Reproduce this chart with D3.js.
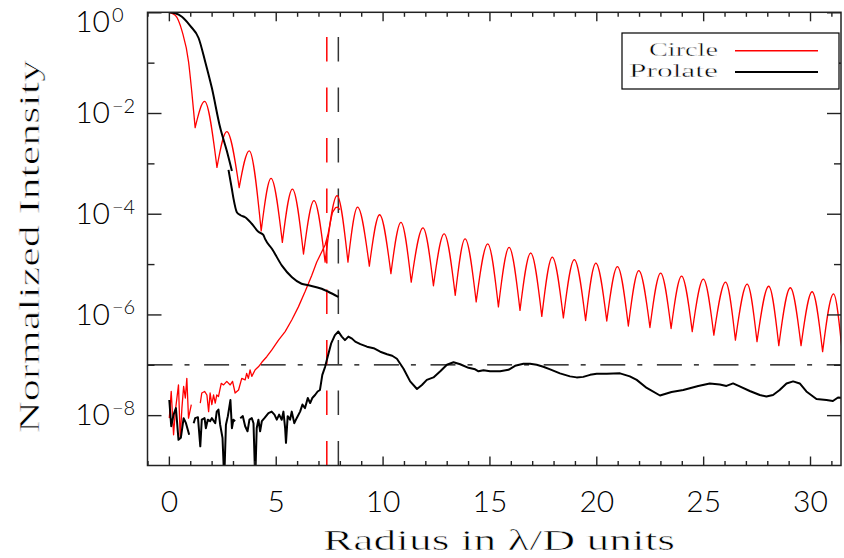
<!DOCTYPE html>
<html>
<head>
<meta charset="utf-8">
<script src="https://cdn.jsdelivr.net/npm/d3@7"></script>
<style>
  body { margin: 0; background: #fff; }
  .tick text { font-family: Lato, "Open Sans", sans-serif; font-weight: 300; font-size: 30px; fill: #000; }
  .tick text.sup { font-size: 20px; }
  .title { font-family: "Liberation Serif", serif; font-size: 30px; fill: #000; stroke: #fff; stroke-width: 0.6px; }
  .legend text { font-family: "Liberation Serif", serif; font-size: 18px; fill: #000; stroke: #fff; stroke-width: 0.4px; }
</style>
</head>
<body>
<div id="chart"></div>
<script>
// ---- data (radius in lambda/D, log10 of normalized intensity) ----
var seriesNames = ["Circle", "Prolate"];
var seriesColors = ["#ff0000", "#000000"];

var xTicks = [0, 5, 10, 15, 20, 25, 30];
var yTicks = [1, 1e-2, 1e-4, 1e-6, 1e-8];
var yMinorTicks = [1e-1, 1e-3, 1e-5, 1e-7];

// circle: central lobe, then the ring pattern (nulls and ring peaks)
var mainLobeR   = [0, 0.3, 0.62, 0.92, 1.07, 1.23];
var mainLobeLog = [0, -0.06, -0.38, -0.98, -1.57, -2.29];

var airyNullR = [1.23, 2.25, 3.29, 4.32, 5.31, 6.30, 7.31, 8.38, 9.38, 10.39,
                 11.34, 12.38, 13.40, 14.38, 15.42, 16.43, 17.45, 18.46, 19.50, 20.49,
                 21.50, 22.51, 23.50, 24.49, 25.50, 26.51, 27.52, 28.54, 29.58, 30.59, 31.5];
var airyNullLog = [-2.29, -3.08, -3.48, -4.34, -4.57, -4.80, -4.96, -4.96, -5.04, -5.19,
                   -5.36, -5.43, -5.62, -5.75, -5.85, -5.92, -6.04, -6.07, -6.12, -6.13,
                   -6.23, -6.26, -6.28, -6.34, -6.41, -6.51, -6.54, -6.62, -6.62, -6.74, -6.72];
var airyPeakR = [1.67, 2.71, 3.76, 4.78, 5.78, 6.79, 7.87, 8.83, 9.86, 10.86,
                 11.89, 12.88, 13.86, 14.92, 15.92, 16.93, 17.94, 18.97, 19.98, 20.99,
                 21.99, 23.01, 23.99, 25.01, 26.05, 27.06, 28.07, 29.08, 30.10, 31.10];
var airyPeakLog = [-1.77, -2.37, -2.75, -3.30, -3.51, -3.74, -3.64, -3.87, -4.02, -4.17,
                   -4.28, -4.40, -4.50, -4.60, -4.67, -4.78, -4.86, -4.91, -4.98, -5.05,
                   -5.13, -5.18, -5.24, -5.30, -5.36, -5.40, -5.44, -5.47, -5.55, -5.59];

// circle: residual floor inside the corrected zone
var circleFloorAR   = [0.02, 0.11, 0.22, 0.30, 0.45, 0.53, 0.61, 0.69, 0.77, 0.84, 0.92, 1.05];
var circleFloorALog = [-8.06, -7.53, -8.39, -7.93, -7.40, -8.45, -7.86, -7.43, -7.66, -7.27, -8.06, -7.79];
var circleFloorBR = [1.47, 1.54, 1.67, 1.78, 1.86, 1.93, 2.01, 2.09, 2.17, 2.24,
                     2.32, 2.45, 2.56, 2.71, 2.87, 2.98, 3.10, 3.26, 3.41, 3.57,
                     3.64, 3.72, 3.80, 3.88, 4.04, 4.19, 4.35, 4.58, 4.81, 5.13,
                     5.44, 5.75, 6.06, 6.37, 6.68, 6.92, 7.15, 7.31, 7.45, 7.55,
                     7.65, 7.80, 7.90, 8.00];
var circleFloorBLog = [-7.76, -7.56, -7.53, -7.60, -7.93, -7.56, -7.79, -7.60, -7.76, -7.60,
                       -7.63, -7.37, -7.40, -7.33, -7.40, -7.33, -7.56, -7.50, -7.27, -7.30,
                       -7.17, -7.27, -7.10, -7.23, -7.10, -7.04, -6.95, -6.84, -6.71, -6.51,
                       -6.34, -6.11, -5.85, -5.55, -5.23, -4.96, -4.76, -4.62, -4.40, -4.18,
                       -3.98, -3.88, -3.87, -3.92];

// prolate: unmasked profile (two pieces)
var prolateAR   = [0, 0.3, 0.61, 1.0, 1.39, 1.70, 2.01, 2.40, 2.71, 2.95];
var prolateALog = [0, -0.02, -0.09, -0.27, -0.51, -0.98, -1.50, -2.29, -2.75, -3.15];
var prolateBR   = [2.79, 2.94, 3.02, 3.18, 3.35, 3.57, 3.88, 4.19, 4.42, 4.50,
                   4.83, 5.29, 5.76, 6.21, 6.53, 7.15, 7.46, 7.93];
var prolateBLog = [-3.13, -3.49, -3.69, -3.97, -4.03, -4.07, -4.20, -4.36, -4.42, -4.50,
                   -4.70, -5.03, -5.26, -5.39, -5.42, -5.49, -5.55, -5.65];

// prolate: residual floor
var prolateFloorAR   = [0.02, 0.11, 0.22, 0.33, 0.45, 0.56, 0.69, 0.80, 0.95];
var prolateFloorALog = [-7.70, -8.22, -7.99, -7.86, -8.49, -8.45, -8.06, -8.16, -8.39];
var prolateFloorBR   = [1.16, 1.23, 1.36, 1.47, 1.54, 1.67, 1.73, 1.82, 1.93, 2.01,
                        2.17, 2.24, 2.32, 2.40, 2.51, 2.59, 2.67, 2.76, 2.82, 2.88,
                        2.95, 3.02, 3.10];
var prolateFloorBLog = [-8.16, -8.06, -8.04, -8.62, -8.09, -8.06, -8.26, -8.09, -8.12, -8.06,
                        -8.16, -7.93, -7.89, -8.19, -8.45, -9.30, -8.19, -8.02, -7.86, -7.70,
                        -8.26, -8.09, -8.12];
var prolateFloorCR = [3.34, 3.46, 3.57, 3.68, 3.77, 3.88, 3.96, 4.04, 4.11, 4.19,
                      4.27, 4.35, 4.47, 4.66, 4.81, 4.94, 5.05, 5.16, 5.28, 5.36,
                      5.44, 5.48, 5.56, 5.67, 5.75, 5.87, 5.98, 6.14, 6.25, 6.37,
                      6.50, 6.61, 6.71, 6.84, 6.96, 7.07, 7.18, 7.31, 7.43, 7.59,
                      7.77, 7.93, 8.09, 8.24, 8.40, 8.57, 8.72, 8.96, 9.27, 9.58,
                      9.89, 10.21, 10.45, 10.67, 10.98, 11.29, 11.61, 11.84, 12.07, 12.38,
                      12.70, 13.01, 13.32, 13.63, 14.02, 14.33, 14.49, 14.72, 15.03, 15.50,
                      15.89, 16.20, 16.59, 16.90, 17.21, 17.52, 17.84, 18.30, 18.77, 19.08,
                      19.39, 19.71, 20.02, 20.49, 21.11, 21.57, 21.89, 22.36, 22.98, 23.52,
                      24.07, 24.77, 25.31, 25.78, 26.09, 26.40, 26.71, 27.18, 27.65, 27.96,
                      28.27, 28.58, 28.90, 29.21, 29.52, 29.83, 30.30, 30.77, 31.07, 31.31,
                      31.54];
var prolateFloorCLog = [-8.06, -8.02, -8.22, -8.32, -8.09, -8.06, -8.16, -9.30, -8.26, -8.09,
                        -8.32, -8.12, -8.06, -7.96, -7.93, -7.99, -8.09, -7.99, -8.09, -7.93,
                        -8.26, -8.55, -8.02, -8.09, -7.93, -8.16, -8.06, -7.93, -7.79, -7.86,
                        -7.66, -7.76, -7.66, -7.60, -7.53, -7.50, -7.20, -7.04, -6.84, -6.58,
                        -6.41, -6.34, -6.44, -6.51, -6.44, -6.48, -6.54, -6.59, -6.64, -6.67,
                        -6.74, -6.79, -6.82, -6.88, -7.08, -7.33, -7.48, -7.40, -7.30, -7.25,
                        -7.13, -7.00, -6.95, -6.99, -7.06, -7.09, -7.13, -7.11, -7.13, -7.13,
                        -7.10, -7.02, -6.98, -6.98, -7.00, -7.04, -7.09, -7.17, -7.23, -7.25,
                        -7.24, -7.20, -7.18, -7.18, -7.17, -7.23, -7.30, -7.46, -7.61, -7.54,
                        -7.50, -7.42, -7.37, -7.39, -7.42, -7.37, -7.43, -7.52, -7.60, -7.63,
                        -7.60, -7.50, -7.37, -7.33, -7.37, -7.53, -7.68, -7.70, -7.72, -7.65,
                        -7.66];

var contrastLevel = 1e-7;
var circleEdge = 7.39, prolateEdge = 7.93;

// ---- layout ----
var W = 844, H = 558;
var plot = { left: 147.5, right: 841, top: 12.3, bottom: 465.5 };

var svg = d3.select("#chart").append("svg")
  .attr("width", W)
  .attr("height", H);

var x = d3.scaleLinear().domain([-1, 31.45]).range([plot.left, plot.right]);
var y = d3.scaleLog().domain([1e-9, 1]).range([plot.bottom, plot.top]);

function pts(rs, logs) {
  return rs.map(function(r, i) { return [r, Math.pow(10, logs[i])]; });
}

var lineLin = d3.line().x(function(d) { return x(d[0]); }).y(function(d) { return y(d[1]); });
var lineSmooth = d3.line().x(function(d) { return x(d[0]); }).y(function(d) { return y(d[1]); })
  .curve(d3.curveMonotoneX);

svg.append("clipPath").attr("id", "clip").append("rect")
  .attr("x", plot.left).attr("y", plot.top)
  .attr("width", plot.right - plot.left).attr("height", plot.bottom - plot.top);

var plotArea = svg.append("g").attr("clip-path", "url(#clip)");

// reference lines
plotArea.append("line")
  .attr("x1", plot.left).attr("x2", plot.right)
  .attr("y1", y(contrastLevel)).attr("y2", y(contrastLevel))
  .attr("stroke", "#000").attr("stroke-width", 1.3)
  .attr("stroke-dasharray", "25,12,5,14.6");

[[circleEdge, seriesColors[0]], [prolateEdge, "#333"]].forEach(function(e) {
  plotArea.append("line")
    .attr("x1", x(e[0])).attr("x2", x(e[0]))
    .attr("y1", plot.bottom).attr("y2", plot.top)
    .attr("stroke", e[1]).attr("stroke-width", 1.5)
    .attr("stroke-dasharray", "24.5,26");
});

// circle curves: each ring drawn from null to null
var lobes = [pts(mainLobeR, mainLobeLog)];
airyPeakR.forEach(function(r, i) {
  lobes.push([[airyNullR[i], Math.pow(10, airyNullLog[i])],
              [r, Math.pow(10, airyPeakLog[i])],
              [airyNullR[i + 1], Math.pow(10, airyNullLog[i + 1])]]);
});

plotArea.append("path")
  .attr("d", lobes.map(function(l) { return lineSmooth(l); }).join(""))
  .attr("fill", "none").attr("stroke", seriesColors[0])
  .attr("stroke-width", 1.3).attr("stroke-linejoin", "round").attr("stroke-linecap", "round");

[pts(circleFloorAR, circleFloorALog), pts(circleFloorBR, circleFloorBLog)].forEach(function(s) {
  plotArea.append("path").attr("d", lineLin(s))
    .attr("fill", "none").attr("stroke", seriesColors[0])
    .attr("stroke-width", 1.3).attr("stroke-linejoin", "round");
});

// prolate curves
[pts(prolateAR, prolateALog), pts(prolateBR, prolateBLog)].forEach(function(s) {
  plotArea.append("path").attr("d", lineSmooth(s))
    .attr("fill", "none").attr("stroke", seriesColors[1])
    .attr("stroke-width", 2).attr("stroke-linejoin", "round");
});
[pts(prolateFloorAR, prolateFloorALog), pts(prolateFloorBR, prolateFloorBLog),
 pts(prolateFloorCR, prolateFloorCLog)].forEach(function(s) {
  plotArea.append("path").attr("d", lineLin(s))
    .attr("fill", "none").attr("stroke", seriesColors[1])
    .attr("stroke-width", 2).attr("stroke-linejoin", "round");
});

// ---- axes (ticks inside on all four sides) ----
var xMinor = d3.range(-1, 32).filter(function(v) { return v % 5 !== 0; });
var noLabel = function() { return ""; };

function styleAxis(g) {
  g.select(".domain").remove();
  g.attr("color", "#222");
  g.selectAll(".tick line").attr("stroke-width", 1.4);
}

svg.append("g").attr("transform", "translate(0," + plot.bottom + ")")
  .call(d3.axisBottom(x).tickValues(xTicks).tickSizeInner(-9).tickSizeOuter(0)
    .tickPadding(25).tickFormat(d3.format("d")))
  .call(styleAxis);
svg.append("g").attr("transform", "translate(0," + plot.bottom + ")")
  .call(d3.axisBottom(x).tickValues(xMinor).tickSizeInner(-4.5).tickSizeOuter(0).tickFormat(noLabel))
  .call(styleAxis);
svg.append("g").attr("transform", "translate(0," + plot.top + ")")
  .call(d3.axisTop(x).tickValues(xTicks).tickSizeInner(-9).tickSizeOuter(0).tickFormat(noLabel))
  .call(styleAxis);
svg.append("g").attr("transform", "translate(0," + plot.top + ")")
  .call(d3.axisTop(x).tickValues(xMinor).tickSizeInner(-4.5).tickSizeOuter(0).tickFormat(noLabel))
  .call(styleAxis);

var yAxis = svg.append("g").attr("transform", "translate(" + plot.left + ",0)")
  .call(d3.axisLeft(y).tickValues(yTicks).tickSizeInner(-14).tickSizeOuter(0)
    .tickPadding(37.5).tickFormat(function() { return "10"; }))
  .call(styleAxis);
yAxis.selectAll(".tick").each(function(d) {
  var t = d3.select(this);
  var shift = d === 1 ? 10 : 0;
  t.select("text").attr("y", shift);
  var e = Math.round(Math.log10(d));
  t.append("text").attr("class", "sup")
    .attr("x", -35.5).attr("y", shift - 0.5)
    .attr("text-anchor", "start").attr("fill", "#000")
    .text(e < 0 ? "\u2212" + (-e) : String(e));
});
svg.append("g").attr("transform", "translate(" + plot.left + ",0)")
  .call(d3.axisLeft(y).tickValues(yMinorTicks).tickSizeInner(-7).tickSizeOuter(0).tickFormat(noLabel))
  .call(styleAxis);
svg.append("g").attr("transform", "translate(" + plot.right + ",0)")
  .call(d3.axisRight(y).tickValues(yTicks).tickSizeInner(-14).tickSizeOuter(0).tickFormat(noLabel))
  .call(styleAxis);
svg.append("g").attr("transform", "translate(" + plot.right + ",0)")
  .call(d3.axisRight(y).tickValues(yMinorTicks).tickSizeInner(-7).tickSizeOuter(0).tickFormat(noLabel))
  .call(styleAxis);

svg.append("rect")
  .attr("x", plot.left).attr("y", plot.top)
  .attr("width", plot.right - plot.left).attr("height", plot.bottom - plot.top)
  .attr("fill", "none").attr("stroke", "#222").attr("stroke-width", 1.5);

// titles
svg.append("text").attr("class", "title")
  .attr("x", 499).attr("y", 550).attr("text-anchor", "middle")
  .attr("textLength", 352).attr("lengthAdjust", "spacingAndGlyphs")
  .text("Radius in \u03bb/D units");
svg.append("text").attr("class", "title")
  .attr("transform", "translate(38.5,246.5) rotate(-90)").attr("text-anchor", "middle")
  .attr("textLength", 373).attr("lengthAdjust", "spacingAndGlyphs")
  .text("Normalized Intensity");

// legend
var legend = svg.append("g").attr("class", "legend");
legend.append("rect").attr("x", 622).attr("y", 33).attr("width", 217).attr("height", 56)
  .attr("fill", "#fff").attr("stroke", "#000").attr("stroke-width", 1.2);
var legendLen = [69, 89];
seriesNames.forEach(function(name, i) {
  var by = 56 + i * 21.3;
  legend.append("text").attr("x", 718).attr("y", by).attr("text-anchor", "end")
    .attr("textLength", legendLen[i]).attr("lengthAdjust", "spacingAndGlyphs")
    .text(name);
  legend.append("line").attr("x1", 735).attr("x2", 818)
    .attr("y1", by - 5.3).attr("y2", by - 5.3)
    .attr("stroke", seriesColors[i]).attr("stroke-width", i ? 1.8 : 1.4);
});
</script>
</body>
</html>
